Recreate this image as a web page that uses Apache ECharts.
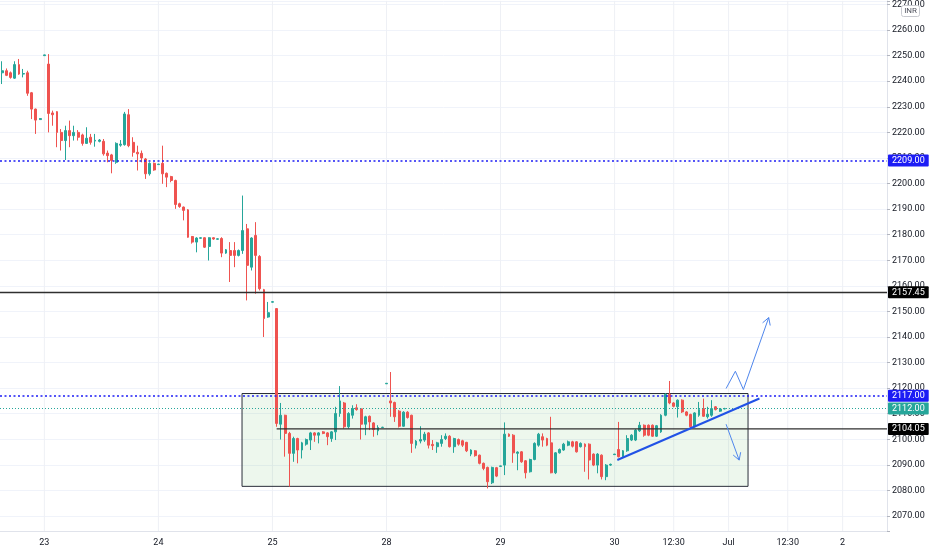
<!DOCTYPE html>
<html><head><meta charset="utf-8">
<script src="https://cdn.jsdelivr.net/npm/echarts/dist/echarts.min.js"></script>
<style>html,body{margin:0;padding:0;background:#fff}#c{width:932px;height:550px}</style>
</head><body><div id="c"></div>
<script>
// ---- data (15-minute candles, 27 slots per session day) ----
const opens = [
2243.3,2244.1,2243.3,2241.2,2246.5,2242.8,2243.3,2235.5,2229.1,2225.0,
2250.0,2246.7,2227.6,2228.1,2220.0,2216.8,2220.7,2218.7,2220.0,2219.0,
2215.7,2218.1,2216.6,2216.5,2216.5,2211.9,2211.2,2208.3,2215.0,2215.2,
2226.9,2216.1,2212.2,2211.8,2209.6,2203.8,2207.9,2207.4,2207.9,2204.0,
2202.7,2201.2,2192.1,2190.8,2189.7,2179.3,2177.1,2178.6,2178.8,2175.4,
2178.8,2178.2,2178.5,2172.8,2173.8,2173.8,2171.9,2173.8,2182.3,2167.3,
2179.7,2171.5,2158.5,2147.8,2153.6,2151.1,2105.9,2109.4,2102.3,2094.5,
2100.3,2095.8,2098.1,2099.7,2102.5,2101.6,2102.9,2102.5,2100.3,2102.9,
2110.1,2114.2,2104.9,2109.4,2112.3,2111.9,2105.9,2109.0,2106.4,2103.3,
2104.6,2121.7,2115.0,2114.4,2111.0,2105.1,2110.6,2109.4,2097.7,2099.3,
2099.7,2102.5,2098.0,2097.1,2098.4,2100.3,2101.2,2097.1,2099.9,2099.4,
2098.8,2094.2,2095.5,2093.8,2090.6,2089.0,2083.0,2088.9,2089.4,2089.9,
2102.0,2101.6,2094.5,2095.1,2091.6,2087.3,2092.1,2097.7,2101.0,2100.3,
2098.6,2086.9,2094.7,2095.8,2097.7,2099.0,2099.0,2097.1,2098.1,2098.1,
2094.2,2089.9,2093.8,2085.4,2089.9,2094.0,2096.0,2093.2,2095.5,2099.7,
2099.7,2103.3,2105.5,2105.5,2105.5,2101.2,2102.9,2109.4,2117.6,2114.2,
2112.7,2115.3,2110.7,2109.7,2104.9,2109.4,2112.0,2108.8,2109.4,2112.7,
2111.0,2111.9];
const closes = [
2244.1,2242.3,2241.5,2246.5,2242.8,2243.0,2235.3,2229.1,2224.8,2225.4,
2250.3,2227.4,2226.9,2220.0,2216.8,2220.7,2218.7,2220.0,2218.1,2215.7,
2217.7,2216.1,2216.9,2217.0,2211.6,2210.9,2209.0,2215.7,2215.4,2227.2,
2214.8,2212.2,2211.6,2210.0,2203.8,2207.9,2205.3,2207.6,2203.8,2202.5,
2201.2,2191.8,2191.0,2189.5,2179.0,2177.1,2178.7,2178.8,2175.1,2178.8,
2178.3,2178.4,2172.8,2174.1,2171.9,2171.9,2173.8,2181.6,2168.0,2178.7,
2171.9,2158.9,2147.2,2149.5,2153.8,2106.2,2109.4,2102.3,2094.5,2100.3,
2095.8,2098.6,2099.9,2102.5,2101.6,2102.5,2102.3,2101.0,2102.9,2110.1,
2115.0,2104.9,2110.1,2112.0,2111.6,2105.9,2108.8,2106.8,2103.8,2104.6,
2104.7,2121.9,2114.2,2108.8,2105.1,2110.6,2108.5,2098.4,2099.3,2099.9,
2102.0,2097.7,2097.5,2098.6,2099.9,2101.2,2097.1,2100.3,2098.1,2097.7,
2095.5,2095.8,2093.6,2090.6,2088.6,2083.4,2089.0,2085.6,2089.6,2102.0,
2101.2,2094.7,2095.0,2091.2,2086.9,2092.1,2098.4,2102.0,2099.7,2097.7,
2086.9,2094.7,2096.0,2098.1,2099.0,2097.3,2095.1,2098.4,2097.1,2091.9,
2089.9,2094.2,2085.4,2089.9,2090.2,2094.2,2093.2,2095.5,2100.3,2101.6,
2103.6,2105.5,2101.6,2101.6,2101.2,2105.3,2109.4,2117.6,2114.2,2112.9,
2115.3,2110.7,2109.4,2104.9,2110.3,2111.6,2109.0,2109.8,2112.0,2111.6,
2111.8,2112.0];
const lows = [
2238.9,2242.0,2241.0,2240.9,2242.5,2241.5,2234.3,2225.2,2219.4,2224.9,
2249.9,2220.0,2222.6,2214.2,2212.9,2209.2,2214.2,2216.8,2216.8,2214.8,
2215.5,2215.2,2214.4,2216.1,2210.9,2208.3,2204.0,2207.7,2214.4,2214.8,
2214.2,2210.5,2205.1,2208.3,2201.8,2203.1,2205.0,2207.3,2199.9,2198.6,
2200.5,2190.1,2190.5,2185.6,2178.8,2176.5,2173.1,2178.4,2174.8,2169.9,
2178.0,2178.0,2171.2,2172.5,2161.5,2167.3,2171.5,2172.5,2154.3,2166.0,
2156.9,2158.2,2140.0,2147.5,2153.5,2104.9,2099.9,2093.2,2081.5,2091.2,
2090.6,2092.5,2097.5,2095.8,2099.0,2098.4,2102.0,2097.7,2099.0,2099.7,
2108.8,2104.2,2104.2,2108.1,2111.2,2099.9,2101.6,2103.6,2101.0,2101.6,
2104.4,2121.6,2108.8,2106.8,2104.6,2104.9,2108.1,2094.7,2096.4,2098.4,
2099.0,2096.4,2095.8,2094.7,2097.1,2099.7,2096.8,2094.7,2097.5,2097.0,
2095.0,2093.4,2093.2,2090.2,2087.9,2080.8,2082.5,2085.2,2089.3,2086.0,
2100.9,2090.8,2087.9,2090.8,2084.7,2087.0,2091.8,2097.1,2097.1,2097.3,
2086.7,2086.4,2094.4,2095.5,2097.3,2096.8,2094.8,2096.8,2087.3,2084.3,
2089.5,2086.7,2084.3,2084.0,2089.6,2093.9,2092.9,2092.8,2095.1,2099.3,
2099.3,2102.9,2101.0,2101.2,2100.9,2100.9,2102.5,2109.0,2113.7,2112.5,
2108.5,2110.3,2109.0,2104.2,2104.6,2108.8,2108.8,2108.1,2108.8,2111.3,
2110.7,2111.7];
const highs = [
2247.8,2245.0,2243.8,2247.8,2248.7,2244.8,2244.1,2235.8,2229.3,2225.6,
2250.4,2250.6,2228.5,2228.3,2221.3,2222.6,2224.6,2222.6,2220.9,2219.5,
2222.0,2219.4,2219.4,2217.4,2217.4,2212.9,2211.6,2216.1,2217.0,2228.0,
2229.1,2218.1,2214.8,2212.9,2210.0,2208.3,2208.2,2207.7,2214.8,2204.3,
2203.0,2201.5,2192.5,2191.0,2190.0,2179.5,2179.0,2179.0,2179.0,2179.0,
2179.0,2178.6,2179.0,2174.4,2177.1,2177.1,2174.2,2195.3,2184.2,2179.0,
2184.9,2172.0,2158.8,2153.7,2154.0,2151.3,2114.2,2109.6,2102.9,2101.0,
2100.6,2099.0,2100.3,2102.9,2102.8,2102.8,2103.2,2102.8,2103.2,2112.7,
2120.8,2114.6,2110.6,2113.3,2113.7,2112.2,2109.2,2109.3,2106.7,2105.5,
2104.9,2122.0,2126.3,2114.7,2111.4,2111.0,2111.0,2109.6,2099.7,2105.1,
2102.9,2102.8,2099.7,2099.0,2101.6,2102.3,2101.6,2100.6,2100.3,2099.8,
2099.0,2096.1,2095.8,2094.0,2090.9,2089.3,2089.3,2089.2,2089.7,2106.6,
2102.3,2102.0,2095.3,2095.4,2091.9,2092.4,2098.8,2102.5,2102.3,2100.6,
2108.8,2095.0,2096.4,2098.6,2099.5,2099.4,2099.3,2098.8,2098.4,2098.4,
2094.5,2094.6,2094.1,2090.3,2090.5,2094.3,2106.8,2095.8,2101.6,2102.0,
2104.0,2106.8,2105.8,2105.8,2105.8,2105.6,2109.8,2118.0,2122.8,2114.5,
2115.6,2115.6,2111.0,2110.0,2110.6,2114.6,2115.9,2112.7,2115.3,2113.0,
2112.2,2112.3];

const slotCount = 210;
const labelSlots = [10, 37, 64, 91, 118, 145, 159, 172, 186, 199];
const labelTexts = ['23', '24', '25', '28', '29', '30', '12:30', 'Jul', '12:30', '2'];
const yMin = 2064.14, yMax = 2271.44;

// price levels: 2209 (dotted), 2157.45 (solid), 2117 (dotted), 2112 (last price), 2104.05 (solid, from slot 65)
const levelValues = [2209.00, 2157.45, 2117.00, 2112.00, 2104.05];
const supportStartSlot = 65;

// annotations (x in slot units, y in price)
const boxX = [56.8, 176.6];
const boxY = [2117.9, 2081.6];
const trendX = [145.65, 179.3];
const trendY = [2091.9, 2115.95];
const upArrowX = [171.4, 173.6, 175.5, 181.5];
const upArrowY = [2119.85, 2126.6, 2119.46, 2147.57];
const upHeadX = [180.05, 181.5, 181.85];
const upHeadY = [2145.54, 2147.57, 2144.49];
const downArrowX = [171.4, 174.5];
const downArrowY = [2105.9, 2091.86];
const downHeadX = [174.85, 174.5, 173.08];
const downHeadY = [2094.94, 2091.86, 2093.85];

// ---- build ----
const UP = '#26a69a', DOWN = '#ef5350';
const BLUE = '#1c1cf5', DARK = '#131722';
const cats = Array.from({length: slotCount}, (_, i) => {
  const k = labelSlots.indexOf(i); return k >= 0 ? labelTexts[k] : '';
});
const candleData = opens.map((o, i) => [o, closes[i], lows[i], highs[i]]);
const pts = (xs, ys) => xs.map((x, i) => [x, ys[i]]);
const isTen = v => Math.abs(v - Math.round(v / 10) * 10) < 1e-6;

const levelStyles = [
  {line: {color: BLUE, type: [2, 2.5], width: 1.5}, bg: BLUE},
  {line: {color: '#2f2f2f', type: 'solid', width: 1.3}, bg: '#000000'},
  {line: {color: BLUE, type: [2, 2.5], width: 1.5}, bg: BLUE},
  {line: {color: UP, type: [1, 2], width: 1}, bg: UP},
  {line: {color: 'rgba(0,0,0,0)', type: 'solid', width: 1}, bg: '#000000'}
];
const levelLines = levelValues.map((v, i) => ({
  yAxis: v,
  lineStyle: levelStyles[i].line,
  label: {
    show: true, position: 'end', distance: 1,
    formatter: v.toFixed(2), color: '#ffffff', fontSize: 9,
    fontFamily: 'Roboto', backgroundColor: levelStyles[i].bg,
    padding: [2, 4, 1, 4], borderRadius: 1
  }
}));

const lineSeries = (data, color, width, z) => ({
  type: 'line', xAxisIndex: 1, yAxisIndex: 0, data: data, showSymbol: false,
  symbol: 'none', silent: true, z: z, lineStyle: {color: color, width: width}
});

// vertical grid lines at the time-label slots
const gridSeries = labelSlots.map(s => lineSeries([[s, yMin], [s, yMax]], '#eef0f5', 1, 0));

const option = {
  animation: false,
  backgroundColor: '#ffffff',
  textStyle: {fontFamily: 'Roboto'},
  grid: {left: 0, right: 45, top: 0, bottom: 19},
  xAxis: [
    {type: 'category', data: cats, boundaryGap: true,
     axisLine: {show: true, onZero: false, lineStyle: {color: '#e0e3eb'}},
     axisTick: {show: false},
     axisLabel: {interval: (i) => labelSlots.includes(i), color: DARK, fontSize: 9, margin: 7},
     splitLine: {show: false}},
    {type: 'value', min: -0.5, max: slotCount - 0.5, show: false,
     axisLine: {show: false, onZero: false}, splitLine: {show: false}}
  ],
  yAxis: {
    type: 'value', position: 'right', min: yMin, max: yMax,
    splitNumber: 21, minInterval: 10, maxInterval: 10,
    axisLine: {show: true, onZero: false, lineStyle: {color: '#e0e3eb'}},
    axisTick: {show: true, length: 3, lineStyle: {color: '#b2b5be'}},
    axisLabel: {color: DARK, fontSize: 9, margin: 5,
      formatter: v => isTen(v) ? v.toFixed(2) : ''},
    splitLine: {show: true, lineStyle: {color: '#f0f3fa', width: 1}}
  },
  series: gridSeries.concat([
    Object.assign(lineSeries(pts(boxX, boxY), 'rgba(0,0,0,0)', 0, 1), {
      markArea: {
        silent: true,
        itemStyle: {color: 'rgba(76,175,80,0.10)', borderColor: '#2a2e39', borderWidth: 1},
        data: [[{coord: [boxX[0], boxY[0]]}, {coord: [boxX[1], boxY[1]]}]]
      }
    }),
    {
      type: 'candlestick', xAxisIndex: 0, yAxisIndex: 0, data: candleData, z: 3,
      barWidth: 2.4,
      itemStyle: {color: UP, color0: DOWN, borderColor: UP, borderColor0: DOWN, borderWidth: 1}
    },
    lineSeries([[supportStartSlot, levelValues[4]], [slotCount - 0.5, levelValues[4]]], '#2f2f2f', 1.3, 4),
    Object.assign(lineSeries(pts(trendX, trendY), '#2152e6', 2, 6), {
      markLine: {silent: true, symbol: 'none', data: levelLines}
    }),
    lineSeries(pts(upArrowX, upArrowY), '#4f86ec', 1, 6),
    lineSeries(pts(upHeadX, upHeadY), '#4f86ec', 1, 6),
    lineSeries(pts(downArrowX, downArrowY), '#4f86ec', 1, 6),
    lineSeries(pts(downHeadX, downHeadY), '#4f86ec', 1, 6)
  ]),
  graphic: [
    {type: 'rect', right: 12, top: 5, shape: {width: 18, height: 11, r: 2},
     style: {fill: '#ffffff', stroke: '#c8cad0', lineWidth: 1}, z: 100},
    {type: 'text', right: 15, top: 7, style: {text: 'INR', fontSize: 8, fill: '#50535e', fontFamily: 'Roboto'}, z: 101}
  ]
};
const chart = echarts.init(document.getElementById('c'));
chart.setOption(option);
</script>
</body></html>
